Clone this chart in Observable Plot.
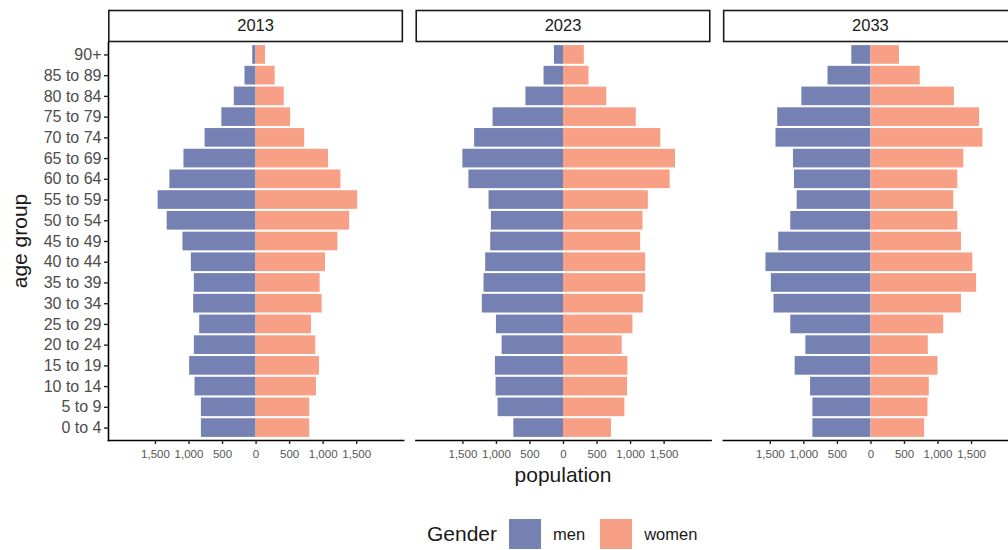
<!DOCTYPE html>
<html>
<head>
<meta charset="utf-8">
<script src="https://cdn.jsdelivr.net/npm/d3@7"></script>
<script src="https://cdn.jsdelivr.net/npm/@observablehq/plot@0.6"></script>
<style>
  html, body { margin: 0; padding: 0; background: #fff; overflow: hidden; }
  body { width: 1008px; height: 550px; font-family: "Liberation Sans", Arial, sans-serif; }
  #chart { width: 1018px; height: 490px; }
  #chart svg { max-width: none !important; display: block; }
  #legend { display: flex; align-items: center; justify-content: flex-start; height: 30px; padding-left: 427px; margin-top: 29px; }
  #legend .title { font-size: 21px; color: #1a1a1a; margin-right: 12px; }
  #legend .sw { width: 32px; height: 30px; margin-right: 12px; }
  #legend .lab { font-size: 16.5px; color: #1a1a1a; margin-right: 15px; }
</style>
</head>
<body>
<div id="chart"></div>
<div id="legend"></div>
<script>
const ages = ["0 to 4","5 to 9","10 to 14","15 to 19","20 to 24","25 to 29","30 to 34","35 to 39","40 to 44","45 to 49","50 to 54","55 to 59","60 to 64","65 to 69","70 to 74","75 to 79","80 to 84","85 to 89","90+"];
const years = ["2013", "2023", "2033"];
const genders = ["men", "women"];
const genderColors = ["#7481B2", "#F8A085"];

const men2013   = [815,815,910,990,920,840,930,920,965,1090,1325,1460,1285,1075,760,510,325,165,50];
const women2013 = [800,800,900,945,890,825,985,955,1035,1220,1395,1515,1265,1080,725,515,420,285,140];
const men2023   = [740,975,1005,1015,915,1000,1210,1185,1160,1085,1075,1110,1410,1500,1325,1050,560,290,135];
const women2023 = [715,915,955,960,875,1035,1190,1225,1225,1150,1185,1265,1590,1670,1450,1085,645,380,310];
const men2033   = [865,865,900,1130,970,1195,1445,1485,1565,1375,1195,1100,1140,1155,1415,1390,1030,640,285];
const women2033 = [800,850,870,1000,855,1085,1350,1575,1520,1350,1295,1235,1295,1385,1670,1620,1245,735,425];

const xTicks = [-1500, -1000, -500, 0, 500, 1000, 1500];

const series = {
  "2013": {men: men2013, women: women2013},
  "2023": {men: men2023, women: women2023},
  "2033": {men: men2033, women: women2033}
};
const data = [];
for (const year of years) {
  ages.forEach((age, i) => {
    data.push({year, age, gender: "men", value: -series[year].men[i]});
    data.push({year, age, gender: "women", value: series[year].women[i]});
  });
}

const W = 1018, H = 490;
const plot = Plot.plot({
  width: W,
  height: H,
  marginLeft: 108,
  marginRight: 0,
  marginTop: 42,
  marginBottom: 50,
  style: {fontFamily: "'Liberation Sans', Arial, sans-serif", background: "white", maxWidth: "none"},
  fx: {domain: years, paddingInner: 0.04, paddingOuter: 0, round: false, axis: null, label: null},
  x: {domain: [-2200, 2200], label: null},
  y: {domain: ages.slice().reverse(), paddingInner: 0.1, paddingOuter: 0.15, round: false, label: null},
  color: {domain: genders, range: genderColors},
  marks: [
    Plot.barX(data, {fx: "year", y: "age", x: "value", fill: "gender"}),
    Plot.frame({anchor: "bottom", stroke: "#000", strokeWidth: 1.6}),
    Plot.frame({anchor: "left", stroke: "#000", strokeWidth: 1.6, facetAnchor: "left"}),
    Plot.axisX({
      ticks: xTicks,
      tickFormat: d => d3.format(",")(Math.abs(d)),
      tickSize: 4,
      tickPadding: 5,
      fontSize: 11.5,
      stroke: "#222",
      strokeWidth: 1.4,
      fill: "#555",
      label: null,
      facetAnchor: "bottom"
    }),
    Plot.axisY({
      tickSize: 4,
      tickPadding: 3,
      fontSize: 16,
      stroke: "#222",
      strokeWidth: 1.4,
      fill: "#4d4d4d",
      label: null,
      facetAnchor: "left"
    })
  ]
});

document.getElementById("chart").appendChild(plot);

// Facet strips and axis titles
const svg = d3.select(plot);
const fx = plot.scale("fx");
const bw = fx.bandwidth;
for (const year of years) {
  const x0 = fx.apply(year);
  svg.append("rect")
    .attr("x", x0 + 0.8).attr("y", 10.5)
    .attr("width", bw - 1.6).attr("height", 31)
    .attr("fill", "white").attr("stroke", "#1a1a1a").attr("stroke-width", 1.6);
  svg.append("text")
    .attr("x", x0 + bw / 2).attr("y", 26.5)
    .attr("text-anchor", "middle").attr("dominant-baseline", "middle")
    .attr("font-size", 16.5).attr("fill", "#1a1a1a")
    .text(year);
}
const midX = fx.apply("2023") + bw / 2;
svg.append("text")
  .attr("x", midX).attr("y", 482)
  .attr("text-anchor", "middle")
  .attr("font-size", 21).attr("fill", "#1a1a1a")
  .text("population");
svg.append("text")
  .attr("transform", `translate(27, ${(42 + 440) / 2}) rotate(-90)`)
  .attr("text-anchor", "middle")
  .attr("font-size", 21).attr("fill", "#1a1a1a")
  .text("age group");

// Legend
const legend = d3.select("#legend");
legend.append("span").attr("class", "title").text("Gender");
genders.forEach((g, i) => {
  legend.append("span").attr("class", "sw").style("background", genderColors[i]);
  legend.append("span").attr("class", "lab").text(g);
});
</script>
</body>
</html>
